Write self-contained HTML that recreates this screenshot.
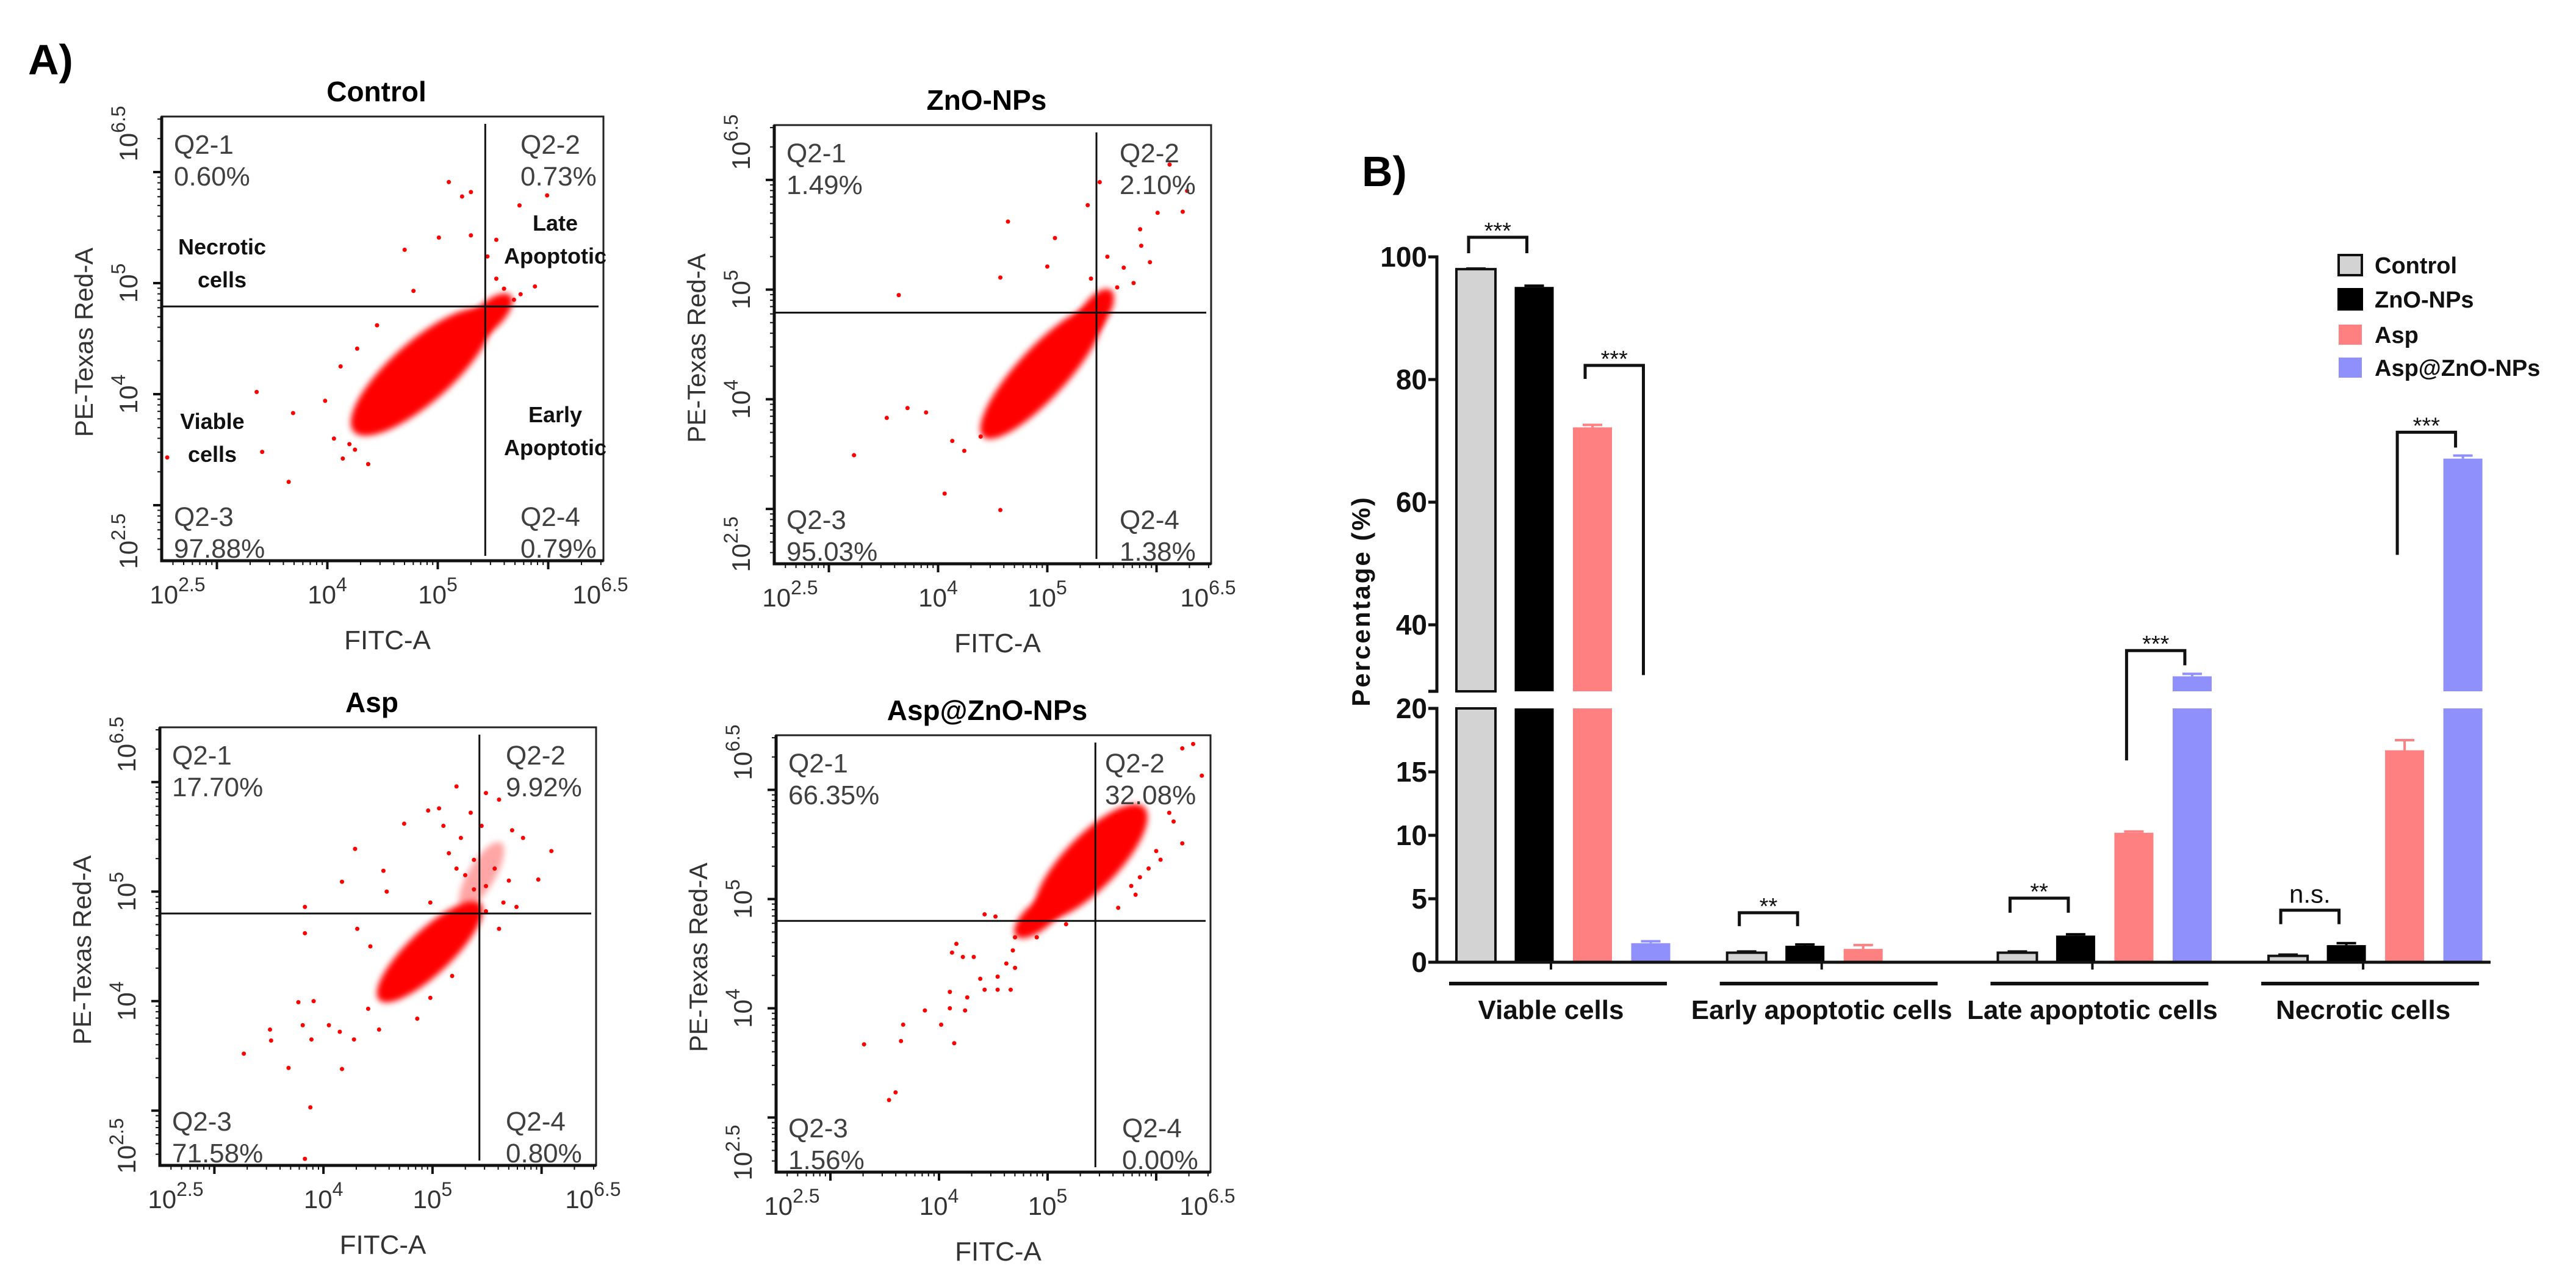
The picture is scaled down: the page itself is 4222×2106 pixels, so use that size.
<!DOCTYPE html>
<html>
<head>
<meta charset="utf-8">
<style>
  html,body{margin:0;padding:0;background:#fff;}
  svg{display:block;}
  text{font-family:"Liberation Sans",sans-serif;}
</style>
</head>
<body>
<svg id="fig" width="4222" height="2106" viewBox="0 0 4222 2106" xmlns="http://www.w3.org/2000/svg">
  <defs>
    <filter id="soft" x="-20%" y="-20%" width="140%" height="140%"><feGaussianBlur stdDeviation="5"/></filter>
  </defs>
  <rect x="0" y="0" width="4222" height="2106" fill="#ffffff"/>
  <text x="46" y="122" font-size="70" font-weight="bold">A)</text>
  <text x="2232" y="305" font-size="70" font-weight="bold">B)</text>
</svg>
<script>
// ---------------- Flow cytometry data ----------------
const flowTitles = ['Control', 'ZnO-NPs', 'Asp', 'Asp@ZnO-NPs'];
const q1Pct = ['0.60%', '1.49%', '17.70%', '66.35%'];
const q2Pct = ['0.73%', '2.10%', '9.92%', '32.08%'];
const q3Pct = ['97.88%', '95.03%', '71.58%', '1.56%'];
const q4Pct = ['0.79%', '1.38%', '0.80%', '0.00%'];
const gateX = [5.43, 5.45, 5.43, 5.44];
const gateY = [4.79, 4.79, 4.80, 4.80];
// clusters: [log x start, log y start, log x end, log y end]
const clustersControl = [[4.28, 3.70, 5.42, 4.70], [5.30, 4.55, 5.62, 4.85]];
const clustersZnO = [[4.45, 3.70, 5.45, 4.78], [5.30, 4.60, 5.55, 4.95]];
const clustersAsp = [[4.55, 4.05, 5.40, 4.85], [5.30, 4.90, 5.60, 5.40]];
const clustersAZ = [[4.95, 4.88, 5.85, 5.80], [4.75, 4.70, 5.10, 5.00]];
const pointsControl = [[5.10,5.91],[5.30,5.82],[5.22,5.78],[5.01,5.41],[4.70,5.30],[5.30,5.43],[4.78,4.93],[5.53,5.04],[5.88,4.97],[5.74,5.70],[5.99,5.79],[4.45,4.62],[4.27,4.41],[4.12,4.25],[3.98,3.94],[3.69,3.83],[3.36,4.02],[3.41,3.48],[2.55,3.43],[3.65,3.21],[4.06,3.60],[4.14,3.42],[4.37,3.37],[5.53,5.39],[5.45,5.24],[5.69,4.85],[5.60,4.95],[5.75,4.90],[4.20,3.55],[4.25,3.50]];
const pointsZnO = [[3.64,4.95],[4.64,5.62],[4.57,5.11],[5.07,5.47],[5.86,5.40],[5.94,5.25],[6.01,5.70],[6.24,5.71],[6.28,5.90],[6.12,6.14],[5.37,5.77],[5.48,5.98],[5.00,5.21],[3.72,3.92],[3.53,3.83],[3.23,3.49],[3.89,3.88],[4.24,3.53],[4.06,3.14],[4.57,2.99],[4.13,3.62],[4.39,3.66],[5.64,5.02],[5.79,5.06],[5.70,5.20],[5.55,5.30],[5.40,5.10],[5.85,5.55]];
const pointsAsp = [[5.22,5.96],[5.49,5.90],[4.96,5.74],[4.74,5.62],[5.06,5.76],[5.35,5.72],[5.61,5.84],[5.73,5.56],[5.83,5.49],[6.09,5.37],[5.97,5.11],[5.26,5.49],[5.38,5.29],[5.57,5.21],[5.49,5.05],[5.22,5.21],[5.65,4.90],[4.29,5.39],[4.55,5.19],[4.17,5.09],[4.58,5.00],[4.98,4.90],[3.83,4.86],[3.83,4.62],[4.31,4.66],[4.43,4.50],[5.61,4.66],[5.77,4.86],[5.49,4.82],[5.38,5.02],[3.77,3.99],[3.91,4.00],[3.51,3.74],[3.52,3.64],[3.27,3.52],[3.81,3.78],[3.89,3.65],[4.05,3.78],[4.15,3.72],[4.28,3.65],[4.17,3.38],[3.68,3.39],[3.88,3.03],[3.83,2.56],[4.41,3.93],[4.51,3.74],[4.86,3.84],[4.98,4.03],[5.18,4.23],[5.10,5.60],[5.45,5.60],[5.70,5.10],[5.15,5.35],[5.30,5.15]];
const pointsAZ = [[6.16,5.71],[6.24,5.51],[6.00,5.44],[6.04,5.36],[5.93,5.28],[5.85,5.20],[5.77,5.12],[5.65,4.92],[5.63,5.75],[6.12,5.79],[6.34,6.42],[6.24,6.38],[6.42,6.13],[5.57,5.28],[5.81,5.04],[5.17,4.77],[4.90,4.65],[4.78,4.73],[4.68,4.53],[4.62,4.41],[4.70,4.37],[4.54,4.29],[4.42,4.86],[4.52,4.84],[4.38,4.27],[4.54,4.17],[4.66,4.17],[4.16,4.59],[4.12,4.51],[4.22,4.47],[4.32,4.47],[4.10,4.15],[4.26,4.10],[4.10,4.00],[4.24,3.98],[3.87,3.98],[4.02,3.85],[3.67,3.85],[3.65,3.70],[4.14,3.68],[3.31,3.67],[3.60,3.23],[3.54,3.16],[4.42,4.17],[4.70,4.65]];
const flowClusters = [clustersControl, clustersZnO, clustersAsp, clustersAZ];
const flowPoints = [pointsControl, pointsZnO, pointsAsp, pointsAZ];
const xTickLogs = [2.5, 4, 5, 6.5];
const xTickExp = ['2.5', '4', '5', '6.5'];

// ---------------- Bar chart data ----------------
const categories = ['Viable cells', 'Early apoptotic cells', 'Late apoptotic cells', 'Necrotic cells'];
const seriesNames = ['Control', 'ZnO-NPs', 'Asp', 'Asp@ZnO-NPs'];
const controlVals = [98.0, 0.75, 0.75, 0.5];
const znoVals = [95.1, 1.3, 2.1, 1.35];
const aspVals = [72.2, 1.05, 10.2, 16.7];
const aspZnoVals = [1.5, 0, 31.6, 67.1];
const controlErr = [0.1, 0.1, 0.1, 0.1];
const znoErr = [0.2, 0.1, 0.1, 0.15];
const aspErr = [0.4, 0.3, 0.1, 0.8];
const aspZnoErr = [0.15, 0, 0.4, 0.5];
const upperTicks = [40, 60, 80, 100];
const lowerTicks = [0, 5, 10, 15, 20];
const sigGroup = [0, 0, 1, 2, 2, 3, 3];
const sigBarA = [0, 2, 0, 0, 2, 0, 2];
const sigBarB = [1, 3, 1, 1, 3, 1, 3];
const sigTop = [103.2, 82.3, 3.9, 5.05, 35.8, 4.1, 71.4];
const sigDropA = [100.6, 80.1, 2.84, 3.9, 15.9, 3.0, 51.4];
const sigDropB = [100.6, 31.8, 2.84, 3.9, 33.4, 3.0, 68.9];
const sigLabel = ['***', '***', '**', '**', '***', 'n.s.', '***'];

const NS = 'http://www.w3.org/2000/svg';
const svg = document.getElementById('fig');
function mk(parent, tag, attrs) {
  const el = document.createElementNS(NS, tag);
  for (const k in attrs) el.setAttribute(k, attrs[k]);
  parent.appendChild(el);
  return el;
}

// ---------------- Draw flow plots ----------------
const boxes = [[265,191,989,919],[1269,205,1985,924],[262,1192,977,1910],[1272,1205,1984,1921]];
const q2Offset = [136, 150, 148, 173];
const q4Offset = [136, 150, 148, 145];
const mainThick = [100, 82, 72, 88];

for (let p = 0; p < 4; p++) {
  const [L, T, R, B] = boxes[p];
  const xs = v => L + (v - 2.5) / 4 * (R - L);
  const ys = v => B - (v - 2.5) / 4 * (B - T);
  const g = mk(svg, 'g', {});
  
  

  const title = mk(g, 'text', {x: (L + R) / 2 - 10, y: T - 25, 'font-size': 46, 'font-weight': 'bold', 'text-anchor': 'middle'});
  title.textContent = flowTitles[p];
  
  

  flowClusters[p].forEach((c, ci) => {
    const x1 = xs(c[0]), y1 = ys(c[1]), x2 = xs(c[2]), y2 = ys(c[3]);
    const cx = (x1 + x2) / 2, cy = (y1 + y2) / 2;
    const len = Math.hypot(x2 - x1, y2 - y1);
    const ang = Math.atan2(y2 - y1, x2 - x1) * 180 / Math.PI;
    const th = ci === 0 ? mainThick[p] : 44;
    const op = (p === 2 && ci === 1) ? 0.35 : 1;
    const el = mk(g, 'ellipse', {cx: cx, cy: cy, rx: len / 2 + 10, ry: th / 2, fill: '#ff0000', opacity: op, filter: 'url(#soft)', transform: `rotate(${ang} ${cx} ${cy})`});
    
    
  });
  flowPoints[p].forEach(pt => {
    const c = mk(g, 'circle', {cx: xs(pt[0]), cy: ys(pt[1]), r: 3.5, fill: '#ff0000'});
    
    
  });

  const box = mk(g, 'rect', {x: L, y: T, width: R - L, height: B - T, fill: 'none', stroke: '#222', 'stroke-width': 3});
  
  
  const ax = mk(g, 'path', {d: `M${L} ${T} V${B} H${R}`, fill: 'none', stroke: '#111', 'stroke-width': 5});
  
  

  const gv = mk(g, 'line', {x1: xs(gateX[p]), y1: T + 12, x2: xs(gateX[p]), y2: B - 8, stroke: '#111', 'stroke-width': 3});
  
  
  const gh = mk(g, 'line', {x1: L, y1: ys(gateY[p]), x2: R - 8, y2: ys(gateY[p]), stroke: '#111', 'stroke-width': 3});
  
  

  for (let d = 2; d <= 6; d++) {
    for (let m = 1; m <= 9; m++) {
      const lv = d + Math.log10(m);
      if (lv < 2.5 || lv > 6.5) continue;
      const major = m === 1;
      const len = major ? 14 : 7;
      const tx = mk(g, 'line', {x1: xs(lv), y1: B, x2: xs(lv), y2: B + len, stroke: '#111', 'stroke-width': major ? 4 : 2});
      
      
      const ty = mk(g, 'line', {x1: L, y1: ys(lv), x2: L - len, y2: ys(lv), stroke: '#111', 'stroke-width': major ? 4 : 2});
      
      
    }
  }
  xTickLogs.forEach((lv, i) => {
    let cx = xs(lv);
    if (i === 0) cx = L + 26;
    if (i === 3) cx = R - 5;
    const t = mk(g, 'text', {x: cx, y: B + 70, 'font-size': 42, fill: '#333', 'text-anchor': 'middle'});
    
    
    const a = mk(t, 'tspan', {});
    a.textContent = '10';
    const b = mk(t, 'tspan', {dy: -20, 'font-size': 32});
    b.textContent = xTickExp[i];

    let cy = ys(lv);
    if (i === 0) cy = B - 32;
    if (i === 3) cy = T + 28;
    const yl = mk(g, 'text', {x: 0, y: 0, 'font-size': 42, fill: '#333', 'text-anchor': 'middle', transform: `translate(${L - 40} ${cy}) rotate(-90)`});
    
    
    const a2 = mk(yl, 'tspan', {});
    a2.textContent = '10';
    const b2 = mk(yl, 'tspan', {dy: -20, 'font-size': 32});
    b2.textContent = xTickExp[i];
  });
  const xt = mk(g, 'text', {x: (L + R) / 2 + 8, y: B + 145, 'font-size': 44, fill: '#333', 'text-anchor': 'middle'});
  xt.textContent = 'FITC-A';
  
  
  const yt = mk(g, 'text', {'font-size': 42, fill: '#333', 'text-anchor': 'middle', transform: `translate(${L - 113} ${(T + B) / 2 + 6}) rotate(-90)`});
  yt.textContent = 'PE-Texas Red-A';
  
  

  const quad = [
    ['Q2-1', q1Pct[p], L + 20, T + 61],
    ['Q2-2', q2Pct[p], R - q2Offset[p], T + 61],
    ['Q2-3', q3Pct[p], L + 20, B - 57],
    ['Q2-4', q4Pct[p], R - q4Offset[p], B - 57]
  ];
  quad.forEach(q => {
    const t1 = mk(g, 'text', {x: q[2], y: q[3], 'font-size': 44, fill: '#404040'});
    t1.textContent = q[0];
    
    
    const t2 = mk(g, 'text', {x: q[2], y: q[3] + 52, 'font-size': 44, fill: '#404040'});
    t2.textContent = q[1];
    
    
  });

  if (p === 0) {
    const ann = [['Necrotic', 364, 417], ['cells', 364, 471], ['Late', 910, 378], ['Apoptotic', 910, 432], ['Viable', 348, 703], ['cells', 348, 757], ['Early', 910, 692], ['Apoptotic', 910, 746]];
    ann.forEach(a => {
      const t = mk(g, 'text', {x: a[1], y: a[2], 'font-size': 36, 'font-weight': 'bold', 'text-anchor': 'middle', fill: '#111'});
      t.textContent = a[0];
      
      
    });
  }
}

// ---------------- Bar chart ----------------
const AX = 2355, Y100 = 421, UPPER_SCALE = 10.05, UPPER_BOTTOM = 1133;
const Y0 = 1577, LOWER_SCALE = 20.8, LOWER_TOP = 1161;
function yv(v) {
  if (v <= 20) return Y0 - v * LOWER_SCALE;
  return Y100 + (100 - v) * UPPER_SCALE;
}
const groupX = i => 2387 + i * 443.7;
const barX = (gi, bi) => groupX(gi) + bi * 95.5;
const BW = 64;
const fills = ['#d3d3d3', '#000000', '#ff8080', '#9090fc'];
const vals = [controlVals, znoVals, aspVals, aspZnoVals];
const errs = [controlErr, znoErr, aspErr, aspZnoErr];

const bg = mk(svg, 'g', {});



for (let gi = 0; gi < categories.length; gi++) {
  for (let si = 0; si < 4; si++) {
    const v = vals[si][gi];
    if (v <= 0) continue;
    const x = barX(gi, si);
    const stroke = si === 0 ? '#111' : 'none';
    const sw = si === 0 ? 4 : 0;
    if (v <= 20) {
      const r = mk(bg, 'rect', {x: x, y: yv(v), width: BW, height: Y0 - yv(v), fill: fills[si], stroke: stroke, 'stroke-width': sw});
      
      
    } else {
      const r1 = mk(bg, 'rect', {x: x, y: LOWER_TOP, width: BW, height: Y0 - LOWER_TOP, fill: fills[si], stroke: stroke, 'stroke-width': sw});
      
      
      const r2 = mk(bg, 'rect', {x: x, y: yv(v), width: BW, height: UPPER_BOTTOM - yv(v), fill: fills[si], stroke: stroke, 'stroke-width': sw});
      
      
    }
    const e = errs[si][gi];
    if (e > 0) {
      const ec = si === 0 ? '#111' : fills[si];
      const ey = yv(v + e);
      const el = mk(bg, 'path', {d: `M${x + BW / 2} ${yv(v)} V${ey} M${x + BW / 2 - 16} ${ey} H${x + BW / 2 + 16}`, stroke: ec, 'stroke-width': 4, fill: 'none'});
      
      
    }
  }
  const gx = groupX(gi);
  const ul = mk(bg, 'line', {x1: gx - 12, y1: 1612, x2: gx + 345, y2: 1612, stroke: '#111', 'stroke-width': 6});
  
  
  const gl = mk(bg, 'text', {x: gx + 155, y: 1670, 'font-size': 44, 'font-weight': 'bold', 'text-anchor': 'middle', fill: '#111'});
  gl.textContent = categories[gi];
  
  
  const tk = mk(bg, 'line', {x1: gx + 155, y1: Y0, x2: gx + 155, y2: Y0 + 12, stroke: '#111', 'stroke-width': 4});
  
  
}

const yAxisU = mk(bg, 'path', {d: `M${AX - 14} ${Y100} H${AX} V${UPPER_BOTTOM} H${AX - 14}`, stroke: '#111', 'stroke-width': 5, fill: 'none'});


const yAxisL = mk(bg, 'path', {d: `M${AX - 14} ${LOWER_TOP} H${AX} V${Y0}`, stroke: '#111', 'stroke-width': 5, fill: 'none'});


const xAxis = mk(bg, 'line', {x1: AX, y1: Y0, x2: 4082, y2: Y0, stroke: '#111', 'stroke-width': 5});



upperTicks.concat(lowerTicks).forEach(v => {
  const y = yv(v);
  const t = mk(bg, 'line', {x1: AX - 14, y1: y, x2: AX, y2: y, stroke: '#111', 'stroke-width': 5});
  
  
  const l = mk(bg, 'text', {x: AX - 16, y: y + 16, 'font-size': 46, 'font-weight': 'bold', 'text-anchor': 'end', fill: '#111'});
  l.textContent = String(v);
  
  
});
const ytitle = mk(bg, 'text', {'font-size': 42, 'font-weight': 'bold', 'letter-spacing': 3, 'text-anchor': 'middle', fill: '#111', transform: `translate(2245 985) rotate(-90)`});
ytitle.textContent = 'Percentage (%)';



for (let i = 0; i < sigLabel.length; i++) {
  const xa = barX(sigGroup[i], sigBarA[i]) + BW / 2 - 12;
  const xb = barX(sigGroup[i], sigBarB[i]) + BW / 2 - 12;
  const yt = yv(sigTop[i]);
  const br = mk(bg, 'path', {d: `M${xa} ${yv(sigDropA[i])} V${yt} H${xb} V${yv(sigDropB[i])}`, stroke: '#111', 'stroke-width': 5, fill: 'none'});
  
  
  const isNs = sigLabel[i] === 'n.s.';
  const st = mk(bg, 'text', {x: (xa + xb) / 2, y: isNs ? yt - 12 : yt + 2, 'font-size': isNs ? 42 : 38, 'text-anchor': 'middle', fill: '#111'});
  st.textContent = sigLabel[i];
  
  
}

const legendY = [434, 490, 548, 602];
seriesNames.forEach((n, i) => {
  const r = mk(bg, 'rect', {x: 3833, y: legendY[i] - 16, width: 38, height: 33, fill: fills[i], stroke: i === 0 ? '#111' : (i === 1 ? '#000' : 'none'), 'stroke-width': i < 2 ? 4 : 0});
  
  
  const t = mk(bg, 'text', {x: 3892, y: legendY[i] + 14, 'font-size': 38, 'font-weight': 'bold', fill: '#111'});
  t.textContent = n;
  
  
});
</script>
</body>
</html>
